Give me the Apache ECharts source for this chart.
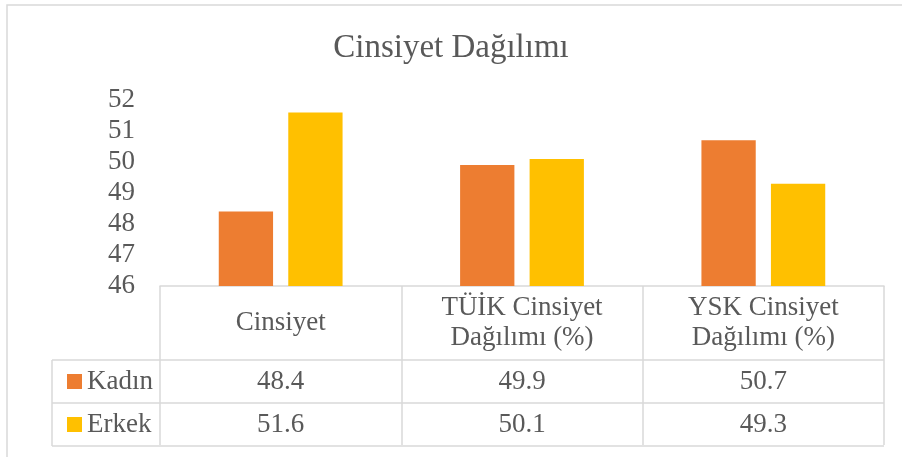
<!DOCTYPE html>
<html>
<head>
<meta charset="utf-8">
<script src="https://cdn.jsdelivr.net/npm/echarts@6/dist/echarts.min.js"></script>
<style>
  html, body { margin: 0; padding: 0; background: #fff; }
  #chart { width: 902px; height: 457px; }
</style>
</head>
<body>
<div id="chart"></div>
<script>
// data
const categories = ["Cinsiyet", "TÜİK Cinsiyet\nDağılımı (%)", "YSK Cinsiyet\nDağılımı (%)"];
const seriesNames = ["Kadın", "Erkek"];
const kadin = [48.4, 49.9, 50.7];
const erkek = [51.6, 50.1, 49.3];
const colors = ["#ED7D31", "#FFC000"];

const FONT = "'Liberation Serif', 'DejaVu Serif', serif";
const TXT = "#595959";
const LINE = "#d9d9d9";
const FS = 27;

const chart = echarts.init(document.getElementById("chart"));

const option = {
  animation: false,
  color: colors,
  title: {
    text: "Cinsiyet Dağılımı",
    left: "center",
    top: 27,
    textStyle: { fontFamily: FONT, fontSize: 33, fontWeight: "normal", color: TXT }
  },
  legend: {
    orient: "vertical",
    left: 62,
    top: 363,
    height: 94,
    itemWidth: 15,
    itemHeight: 15,
    itemGap: 16,
    icon: "rect",
    data: seriesNames,
    textStyle: { fontFamily: FONT, fontSize: FS, color: TXT }
  },
  grid: { left: 160, right: 18, top: 100, bottom: 171, containLabel: false },
  xAxis: {
    type: "category",
    data: categories,
    axisLine: { show: true, lineStyle: { color: LINE, width: 1.5 } },
    axisTick: { show: true, length: 159, lineStyle: { color: LINE, width: 1.5 } },
    axisLabel: { show: false }
  },
  yAxis: {
    type: "value",
    min: 46,
    max: 52,
    interval: 1,
    splitLine: { show: false },
    axisLine: { show: false },
    axisTick: { show: false },
    axisLabel: { fontFamily: FONT, fontSize: FS, color: TXT, margin: 25 }
  },
  series: [
    { name: seriesNames[0], type: "bar", data: kadin, barWidth: "22.5%", barGap: "28%" },
    { name: seriesNames[1], type: "bar", data: erkek, barWidth: "22.5%", barGap: "28%" }
  ]
};
chart.setOption(option);

// data table below the axis
const base = chart.convertToPixel({ yAxisIndex: 0 }, 46);
const x0 = 52;
const xr = 902 - 18;
const headH = 74, rowH = 43;
const y1 = base + headH, y2 = y1 + rowH, y3 = y2 + rowH;
const lineStyle = { stroke: LINE, lineWidth: 1.5 };
const g = [
  { type: "rect", shape: { x: 7, y: 5, width: 1000, height: 1000 }, style: { fill: "none", stroke: LINE, lineWidth: 1.5 }, silent: true },
  { type: "line", shape: { x1: x0, y1: y1, x2: xr, y2: y1 }, style: lineStyle },
  { type: "line", shape: { x1: x0, y1: y2, x2: xr, y2: y2 }, style: lineStyle },
  { type: "line", shape: { x1: x0, y1: y3, x2: xr, y2: y3 }, style: lineStyle },
  { type: "line", shape: { x1: x0, y1: y1, x2: x0, y2: y3 }, style: lineStyle }
];
const font = FS + "px " + FONT;
categories.forEach((c, i) => {
  const cx = chart.convertToPixel({ xAxisIndex: 0 }, i);
  g.push({
    type: "text",
    x: cx, y: base + headH / 2,
    style: { text: c, align: "center", verticalAlign: "middle", font: font, fill: TXT, lineHeight: 30 }
  });
  g.push({
    type: "text",
    x: cx, y: y1 + rowH / 2,
    style: { text: kadin[i].toFixed(1), align: "center", verticalAlign: "middle", font: font, fill: TXT }
  });
  g.push({
    type: "text",
    x: cx, y: y2 + rowH / 2,
    style: { text: erkek[i].toFixed(1), align: "center", verticalAlign: "middle", font: font, fill: TXT }
  });
});
chart.setOption({ graphic: g });
</script>
</body>
</html>
